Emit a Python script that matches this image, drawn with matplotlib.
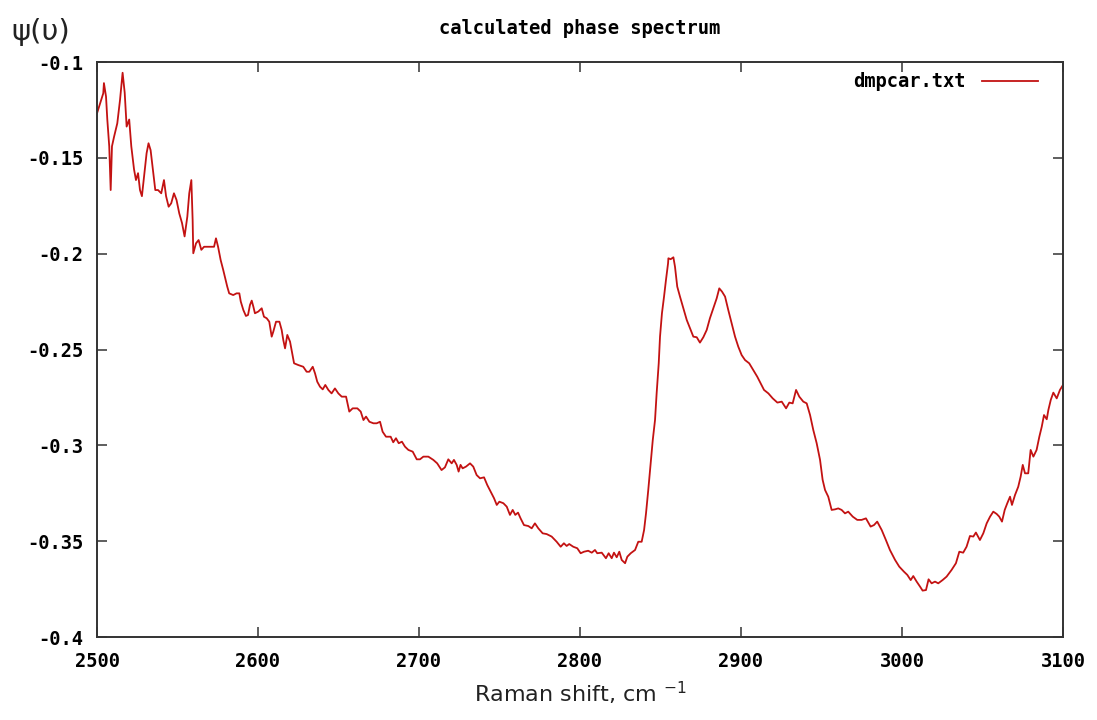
import numpy as np
import matplotlib
matplotlib.use('Agg')
import matplotlib.pyplot as plt

# Raman shift (cm^-1) and calculated phase
shift = [
    2500.0, 2503.9, 2504.3, 2505.6, 2506.4, 2507.6, 2508.5, 2509.3, 2510.6, 2512.6,
    2514.3, 2515.9, 2517.2, 2518.4, 2520.0, 2521.3, 2523.0, 2524.2, 2525.5, 2526.7,
    2527.9, 2529.2, 2530.8, 2532.0, 2533.3, 2534.5, 2536.2, 2537.9, 2539.9, 2541.6,
    2542.9, 2544.5, 2546.1, 2547.8, 2549.4, 2551.1, 2552.8, 2554.4, 2556.1, 2557.3,
    2558.6, 2559.4, 2559.8, 2561.5, 2563.1, 2564.8, 2566.5, 2568.5, 2570.6, 2572.7,
    2573.9, 2575.2, 2576.8, 2578.4, 2580.9, 2582.1, 2584.6, 2586.7, 2588.4, 2589.3,
    2590.9, 2592.5, 2593.8, 2595.0, 2596.1, 2597.1, 2598.1, 2600.2, 2602.3, 2603.7,
    2605.4, 2607.0, 2608.5, 2609.5, 2611.2, 2613.3, 2614.7, 2615.7, 2616.8, 2618.2,
    2619.9, 2620.9, 2622.4, 2625.0, 2628.1, 2630.2, 2631.9, 2634.0, 2635.4, 2636.8,
    2638.5, 2640.2, 2641.8, 2643.7, 2645.7, 2647.8, 2649.9, 2652.0, 2654.7, 2656.7,
    2658.8, 2661.7, 2663.8, 2665.5, 2667.1, 2669.2, 2671.7, 2673.7, 2675.8, 2677.4,
    2679.5, 2682.4, 2684.0, 2685.7, 2687.4, 2689.4, 2691.3, 2693.4, 2696.1, 2698.6,
    2700.6, 2702.7, 2705.8, 2708.9, 2711.3, 2714.0, 2716.1, 2718.2, 2720.3, 2721.7,
    2723.4, 2724.6, 2725.8, 2727.1, 2729.2, 2731.7, 2733.7, 2735.8, 2737.9, 2740.4,
    2742.4, 2744.5, 2746.6, 2748.3, 2749.9, 2752.4, 2754.5, 2756.5, 2758.2, 2759.8,
    2761.5, 2763.1, 2765.2, 2767.9, 2770.0, 2772.0, 2774.1, 2776.8, 2779.3, 2782.4,
    2785.5, 2788.0, 2790.0, 2791.7, 2793.3, 2795.8, 2798.3, 2800.4, 2802.5, 2805.1,
    2807.3, 2809.3, 2810.7, 2813.5, 2816.1, 2817.8, 2819.7, 2821.1, 2822.8, 2824.4,
    2825.9, 2828.0, 2829.4, 2831.5, 2834.2, 2836.2, 2838.3, 2839.8, 2841.0, 2842.4,
    2843.9, 2845.2, 2846.6, 2847.6, 2848.9, 2849.7, 2850.9, 2852.2, 2853.4, 2854.7,
    2854.9, 2856.3, 2858.0, 2859.0, 2860.4, 2862.1, 2864.2, 2866.3, 2868.3, 2870.4,
    2872.5, 2874.5, 2876.6, 2878.7, 2880.7, 2882.8, 2884.9, 2886.5, 2888.2, 2890.1,
    2892.1, 2894.2, 2896.3, 2898.3, 2900.4, 2902.5, 2905.1, 2907.6, 2910.1, 2912.2,
    2914.3, 2917.0, 2919.7, 2922.6, 2925.3, 2928.0, 2930.0, 2932.1, 2934.2, 2936.2,
    2938.7, 2940.8, 2942.9, 2944.9, 2947.0, 2949.1, 2950.7, 2952.2, 2954.2, 2956.3,
    2958.4, 2960.4, 2962.5, 2964.6, 2966.6, 2969.4, 2972.2, 2974.9, 2977.6, 2980.5,
    2982.6, 2984.6, 2987.4, 2990.0, 2992.5, 2995.7, 2998.3, 3001.2, 3003.3, 3005.4,
    3007.0, 3009.1, 3011.2, 3012.8, 3014.9, 3016.5, 3018.4, 3020.5, 3022.5, 3025.2,
    3027.7, 3030.8, 3033.5, 3035.6, 3038.0, 3040.1, 3042.2, 3044.3, 3045.9, 3048.4,
    3050.5, 3052.6, 3054.7, 3056.7, 3058.8, 3060.4, 3062.1, 3063.8, 3065.4, 3067.1,
    3068.3, 3070.2, 3072.2, 3073.7, 3075.0, 3076.4, 3078.4, 3079.9, 3081.6, 3083.6,
    3085.3, 3086.8, 3088.2, 3089.9, 3090.9, 3092.4, 3094.0, 3096.1, 3098.1, 3100.0,
]
phase = [
    -0.1268, -0.1163, -0.1110, -0.1180, -0.1300, -0.1440, -0.1668, -0.1440, -0.1390, -0.1320,
    -0.1198, -0.1056, -0.1160, -0.1337, -0.1300, -0.1440, -0.1560, -0.1616, -0.1580, -0.1668,
    -0.1700, -0.1600, -0.1476, -0.1424, -0.1460, -0.1546, -0.1668, -0.1668, -0.1685, -0.1616,
    -0.1700, -0.1755, -0.1737, -0.1685, -0.1720, -0.1790, -0.1840, -0.1910, -0.1807, -0.1685,
    -0.1616, -0.1824, -0.1998, -0.1946, -0.1929, -0.1980, -0.1964, -0.1964, -0.1964, -0.1964,
    -0.1920, -0.1964, -0.2033, -0.2085, -0.2172, -0.2207, -0.2216, -0.2207, -0.2207, -0.2250,
    -0.2294, -0.2325, -0.2320, -0.2268, -0.2245, -0.2276, -0.2311, -0.2302, -0.2285, -0.2329,
    -0.2337, -0.2355, -0.2433, -0.2407, -0.2355, -0.2355, -0.2398, -0.2450, -0.2494, -0.2424,
    -0.2459, -0.2503, -0.2572, -0.2581, -0.2590, -0.2616, -0.2616, -0.2590, -0.2624, -0.2668,
    -0.2694, -0.2708, -0.2685, -0.2711, -0.2729, -0.2703, -0.2729, -0.2746, -0.2746, -0.2824,
    -0.2807, -0.2807, -0.2824, -0.2868, -0.2850, -0.2877, -0.2885, -0.2885, -0.2877, -0.2929,
    -0.2955, -0.2955, -0.2984, -0.2963, -0.2989, -0.2981, -0.3007, -0.3024, -0.3033, -0.3073,
    -0.3073, -0.3059, -0.3059, -0.3076, -0.3094, -0.3129, -0.3115, -0.3073, -0.3094, -0.3076,
    -0.3102, -0.3137, -0.3102, -0.3120, -0.3111, -0.3094, -0.3111, -0.3155, -0.3172, -0.3167,
    -0.3207, -0.3242, -0.3276, -0.3311, -0.3294, -0.3302, -0.3320, -0.3363, -0.3337, -0.3363,
    -0.3351, -0.3381, -0.3416, -0.3421, -0.3433, -0.3407, -0.3433, -0.3459, -0.3463, -0.3476,
    -0.3503, -0.3529, -0.3511, -0.3525, -0.3515, -0.3529, -0.3537, -0.3563, -0.3555, -0.3550,
    -0.3560, -0.3546, -0.3563, -0.3560, -0.3589, -0.3563, -0.3589, -0.3560, -0.3584, -0.3555,
    -0.3598, -0.3615, -0.3581, -0.3563, -0.3546, -0.3503, -0.3503, -0.3442, -0.3355, -0.3233,
    -0.3094, -0.2972, -0.2868, -0.2729, -0.2572, -0.2433, -0.2311, -0.2224, -0.2137, -0.2050,
    -0.2024, -0.2029, -0.2019, -0.2068, -0.2172, -0.2224, -0.2285, -0.2346, -0.2389, -0.2433,
    -0.2436, -0.2464, -0.2436, -0.2398, -0.2337, -0.2285, -0.2233, -0.2181, -0.2198, -0.2224,
    -0.2294, -0.2363, -0.2433, -0.2485, -0.2529, -0.2555, -0.2572, -0.2607, -0.2642, -0.2676,
    -0.2711, -0.2729, -0.2755, -0.2777, -0.2772, -0.2807, -0.2777, -0.2781, -0.2711, -0.2746,
    -0.2772, -0.2781, -0.2842, -0.2920, -0.2989, -0.3076, -0.3180, -0.3233, -0.3268, -0.3337,
    -0.3334, -0.3329, -0.3337, -0.3355, -0.3346, -0.3372, -0.3389, -0.3389, -0.3381, -0.3424,
    -0.3416, -0.3398, -0.3442, -0.3494, -0.3546, -0.3598, -0.3633, -0.3659, -0.3676, -0.3703,
    -0.3682, -0.3711, -0.3737, -0.3758, -0.3755, -0.3699, -0.3720, -0.3711, -0.3720, -0.3703,
    -0.3685, -0.3650, -0.3615, -0.3555, -0.3560, -0.3529, -0.3473, -0.3476, -0.3455, -0.3494,
    -0.3459, -0.3407, -0.3372, -0.3346, -0.3358, -0.3372, -0.3398, -0.3337, -0.3302, -0.3268,
    -0.3311, -0.3259, -0.3216, -0.3163, -0.3102, -0.3146, -0.3146, -0.3024, -0.3059, -0.3024,
    -0.2955, -0.2903, -0.2842, -0.2864, -0.2816, -0.2763, -0.2725, -0.2755, -0.2711, -0.2685,
]

x_ticks = [2500, 2600, 2700, 2800, 2900, 3000, 3100]
y_ticks = [-0.4, -0.35, -0.3, -0.25, -0.2, -0.15, -0.1]
y_ticklabels = ['-0.4', '-0.35', '-0.3', '-0.25', '-0.2', '-0.15', '-0.1']

mono = {'family': 'DejaVu Sans Mono', 'weight': 'bold'}
fs = 13.5

fig = plt.figure(figsize=(10.97, 7.2), dpi=100)
ax = fig.add_axes([97/1097, 83/720, 966/1097, 575/720])

ax.plot(shift, phase, color='#c31212', lw=1.3, label='dmpcar.txt')

ax.set_xlim(2500, 3100)
ax.set_ylim(-0.4, -0.1)
ax.set_xticks(x_ticks)
ax.set_yticks(y_ticks)
ax.set_xticklabels([str(t) for t in x_ticks], fontdict=mono, fontsize=fs)
ax.set_yticklabels(y_ticklabels, fontdict=mono, fontsize=fs)
ax.tick_params(direction='in', length=7, width=1.1, color='#333333',
               top=True, right=True)
ax.tick_params(axis='x', pad=11)
ax.tick_params(axis='y', pad=10)
for sp in ax.spines.values():
    sp.set_color('#333333')
    sp.set_linewidth(1.4)

leg = ax.legend(loc='upper right', bbox_to_anchor=(0.982, 0.995),
                frameon=False, markerfirst=False, handlelength=3.0,
                handletextpad=0.85, borderaxespad=0,
                prop={'family': 'DejaVu Sans Mono', 'weight': 'bold', 'size': fs})

fig.text(580/1097, 1 - 29/720, 'calculated phase spectrum', ha='center',
         va='center', fontdict=mono, fontsize=fs)
fig.text(11/1097, 1 - 32/720, 'ψ(υ)', ha='left', va='center',
         family='DejaVu Sans', fontsize=21, color='#222222')
fig.text(580/1097, 1 - 693/720, r'Raman shift, cm $^{-1}$', ha='center',
         va='center', family='DejaVu Sans', fontsize=16, color='#222222')

fig.savefig('out.png', dpi=100)
plt.close(fig)
